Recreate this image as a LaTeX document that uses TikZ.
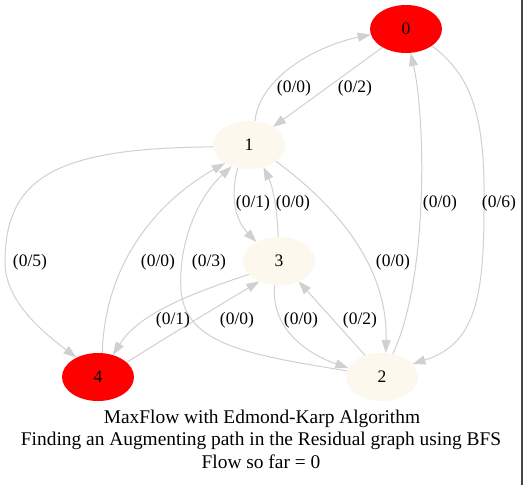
\documentclass[tikz,border=0pt]{standalone}
\usepackage{fontspec}
\setmainfont{Liberation Serif}
\usetikzlibrary{shapes.geometric,arrows.meta}
\definecolor{edgec}{RGB}{208,208,208}
\definecolor{cream}{RGB}{252,248,237}
\definecolor{redn}{RGB}{255,0,0}
\definecolor{framec}{RGB}{70,70,70}
\begin{document}
\begin{tikzpicture}[x=1pt,y=-1pt,
  vert/.style={ellipse, minimum width=72pt, minimum height=48pt, inner sep=0pt,
    font=\fontsize{17.5}{21}\selectfont},
  srcnode/.style={vert, fill=redn},
  midnode/.style={vert, fill=cream},
  conn/.style={draw=edgec, line width=1pt, -{Triangle[length=13pt,width=9pt,color=edgec]}},
  lab/.style={font=\fontsize{17.5}{21}\selectfont, inner sep=0pt},
  ttl/.style={font=\fontsize{19.4}{23}\selectfont, anchor=base, inner sep=0pt}]
\useasboundingbox[fill=white] (0,0) rectangle (524,485);
\draw[framec, line width=2pt] (522,0) -- (522,485);

% vertices
\node[srcnode] (n0) at (406,29) {0};
\node[midnode] (n1) at (249,145) {1};
\node[midnode] (n2) at (382,377) {2};
\node[midnode] (n3) at (279,261) {3};
\node[srcnode] (n4) at (98,377) {4};

% connectors
\draw[conn] (n1.76) .. controls (260,75) and (320,45) .. (n0.189);
\draw[conn] (n0.218) -- (n1.37);
\draw[conn] (n0.-33) .. controls (478,80) and (485,130) .. (484,210)
            .. controls (484,305) and (472,345) .. (n2.23);
\draw[conn] (n2.65) .. controls (428,280) and (426,120) .. (n0.-79);
\draw[conn] (n1.-31) .. controls (335,205) and (388,265) .. (n2.81);
\draw[conn] (n1.244) .. controls (228,205) and (240,225) .. (n3.140);
\draw[conn] (n3.92) .. controls (277,205) and (272,185) .. (n1.-57);
\draw[conn] (n1.183) .. controls (60,148) and (5,175) .. (5,262)
            .. controls (5,300) and (40,330) .. (n4.138);
\draw[conn] (n4.80) .. controls (105,260) and (160,200) .. (n1.217);
\draw[conn] (n2.170) .. controls (250,355) and (185,345) .. (181,290)
            .. controls (178,240) and (200,195) .. (n1.231);
\draw[conn] (n3.204) .. controls (170,300) and (135,320) .. (n4.56);
\draw[conn] (n4.27) .. controls (170,335) and (220,305) .. (n3.226);
\draw[conn] (n3.260) .. controls (270,330) and (310,355) .. (n2.165);
\draw[conn] (n2.128) -- (n3.-46);

% labels
\node[lab] (l10) at (294,88) {(0/0)};
\node[lab] (l01) at (355,88) {(0/2)};
\node[lab] (l02) at (499,203) {(0/6)};
\node[lab] (l20) at (440,203) {(0/0)};
\node[lab] (l13) at (253,203) {(0/1)};
\node[lab] (l31) at (293,203) {(0/0)};
\node[lab] (l14) at (30,262) {(0/5)};
\node[lab] (l41) at (158,262) {(0/0)};
\node[lab] (l21) at (209,262) {(0/3)};
\node[lab] (l12) at (393,262) {(0/0)};
\node[lab] (l34) at (173,320) {(0/1)};
\node[lab] (l43) at (237,320) {(0/0)};
\node[lab] (l32) at (301,320) {(0/0)};
\node[lab] (l23) at (360,320) {(0/2)};

% title
\node[ttl] (t1) at (262,423) {MaxFlow with Edmond-Karp Algorithm};
\node[ttl] (t2) at (261,445.5) {Finding an Augmenting path in the Residual graph using BFS};
\node[ttl] (t3) at (261,468) {Flow so far = 0};
\end{tikzpicture}
\end{document}
